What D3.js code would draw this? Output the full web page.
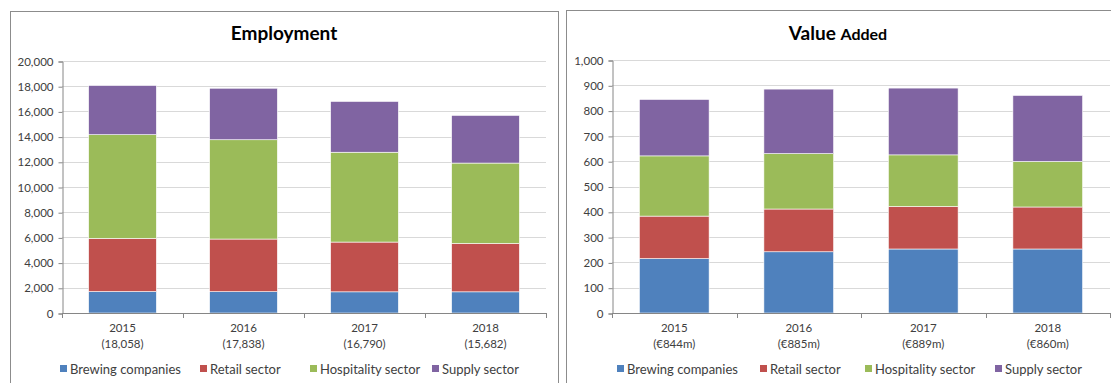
<!doctype html>
<html>
<head>
<meta charset="utf-8">
<title>Employment and Value Added</title>
<script src="https://cdnjs.cloudflare.com/ajax/libs/d3/7.8.5/d3.min.js"></script>
<style>
  body { margin: 0; background: #fff; }
  svg text { font-family: Lato, "Open Sans", sans-serif; fill: #404040; }
  .grid line { stroke: #d9d9d9; }
  .grid path { display: none; }
</style>
</head>
<body>
<svg width="1111" height="383"></svg>
<script>
// series names and colours
const seriesNames = ["Brewing companies", "Retail sector", "Hospitality sector", "Supply sector"];
const seriesColors = ["#4f81bd", "#c0504d", "#9bbb59", "#8064a2"];

// Employment chart
const empYears = ["2015", "2016", "2017", "2018"];
const empTotals = ["(18,058)", "(17,838)", "(16,790)", "(15,682)"];
const empBrewing = [1700, 1690, 1680, 1680];
const empRetail = [4220, 4180, 3950, 3840];
const empHospitality = [8230, 7880, 7130, 6380];
const empSupply = [3908, 4088, 4030, 3782];
const empTicks = [0, 2000, 4000, 6000, 8000, 10000, 12000, 14000, 16000, 18000, 20000];

// Value added chart (EUR m)
const vaYears = ["2015", "2016", "2017", "2018"];
const vaTotals = ["(€844m)", "(€885m)", "(€889m)", "(€860m)"];
const vaBrewing = [215, 242, 253, 253];
const vaRetail = [168, 169, 168, 166];
const vaHospitality = [238, 219, 204, 180];
const vaSupply = [223, 255, 264, 261];
const vaTicks = [0, 100, 200, 300, 400, 500, 600, 700, 800, 900, 1000];

const svg = d3.select("svg");

function drawPanel(opt) {
    // panel frame
    svg.append("rect")
        .attr("x", opt.frame[0] + 0.5).attr("y", opt.frame[1] + 0.5)
        .attr("width", opt.frame[2]).attr("height", opt.frame[3])
        .attr("fill", "none").attr("stroke", "#8c8c8c");

    const x = d3.scaleBand().domain(opt.years).range([opt.left, opt.right]).paddingInner(0.44).paddingOuter(0.22);
    const y = d3.scaleLinear().domain([0, opt.ticks[opt.ticks.length - 1]]).range([opt.bottom, opt.top]);

    const rows = opt.years.map((yr, i) => {
        const r = { year: yr };
        opt.series.forEach((s, k) => r[seriesNames[k]] = s[i]);
        return r;
    });
    const stacked = d3.stack().keys(seriesNames)(rows);

    // gridlines
    svg.append("g").attr("class", "grid")
        .selectAll("line").data(opt.ticks.slice(1)).join("line")
        .attr("x1", opt.left).attr("x2", opt.right)
        .attr("y1", d => Math.round(y(d)) + 0.5).attr("y2", d => Math.round(y(d)) + 0.5);

    // bars
    svg.append("g").selectAll("g").data(stacked).join("g")
        .attr("fill", (d, k) => seriesColors[k])
        .selectAll("rect").data(d => d).join("rect")
        .attr("x", d => x(d.data.year))
        .attr("width", x.bandwidth())
        .attr("y", d => y(d[1]))
        .attr("height", d => y(d[0]) - y(d[1]))
        .attr("stroke", "#fff").attr("stroke-width", 0.6);

    // y axis
    const yAxis = d3.axisLeft(y).tickValues(opt.ticks).tickSize(4).tickPadding(5).tickFormat(d3.format(","));
    const ga = svg.append("g").attr("transform", `translate(${Math.round(opt.left) + 0.5},0.5)`).call(yAxis);
    ga.select(".domain").attr("stroke", "#868686");
    ga.selectAll(".tick line").attr("stroke", "#868686");
    ga.selectAll(".tick text").style("font-size", "11.5px").attr("fill", "#404040");

    // x axis line with category boundary ticks
    const xa = svg.append("g");
    xa.append("line").attr("x1", opt.left).attr("x2", opt.right)
        .attr("y1", Math.round(opt.bottom) + 0.5).attr("y2", Math.round(opt.bottom) + 0.5)
        .attr("stroke", "#868686");
    const step = x.step();
    xa.selectAll("line.b").data(d3.range(opt.years.length + 1)).join("line")
        .attr("class", "b")
        .attr("x1", i => Math.round(opt.left + i * (opt.right - opt.left) / opt.years.length) + 0.5)
        .attr("x2", i => Math.round(opt.left + i * (opt.right - opt.left) / opt.years.length) + 0.5)
        .attr("y1", opt.bottom).attr("y2", opt.bottom + 5)
        .attr("stroke", "#868686");

    const lab = xa.selectAll("text.c").data(opt.years).join("text")
        .attr("class", "c")
        .attr("x", d => x(d) + x.bandwidth() / 2)
        .attr("text-anchor", "middle")
        .style("font-size", "11.5px");
    lab.append("tspan").attr("x", d => x(d) + x.bandwidth() / 2).attr("y", opt.bottom + 19).text(d => d);
    lab.append("tspan").attr("x", d => x(d) + x.bandwidth() / 2).attr("y", opt.bottom + 35).text((d, i) => opt.totals[i]);

    // title
    const t = svg.append("text").attr("x", opt.titleX).attr("y", 40)
        .attr("text-anchor", "middle").style("font-weight", "bold").attr("fill", "#000");
    opt.title.forEach(p => t.append("tspan").style("font-size", p[1] + "px").attr("fill", "#000").text(p[0]));

    // legend
    const lg = svg.append("g");
    seriesNames.forEach((n, k) => {
        lg.append("rect").attr("x", opt.legendX[k]).attr("y", 365).attr("width", 7).attr("height", 7)
            .attr("fill", seriesColors[k]);
        lg.append("text").attr("x", opt.legendX[k] + 10).attr("y", 374)
            .style("font-size", "13px").text(n);
    });
}

drawPanel({
    frame: [10, 11, 548, 400],
    years: empYears, totals: empTotals,
    series: [empBrewing, empRetail, empHospitality, empSupply],
    ticks: empTicks,
    left: 62, right: 546, top: 61, bottom: 313,
    title: [["Employment", 19]], titleX: 284,
    legendX: [60, 200, 310, 432]
});

drawPanel({
    frame: [566, 10, 600, 400],
    years: vaYears, totals: vaTotals,
    series: [vaBrewing, vaRetail, vaHospitality, vaSupply],
    ticks: vaTicks,
    left: 612, right: 1110, top: 60, bottom: 313,
    title: [["Value ", 19], ["Added", 16]], titleX: 838,
    legendX: [617, 760, 865, 995]
});
</script>
</body>
</html>
